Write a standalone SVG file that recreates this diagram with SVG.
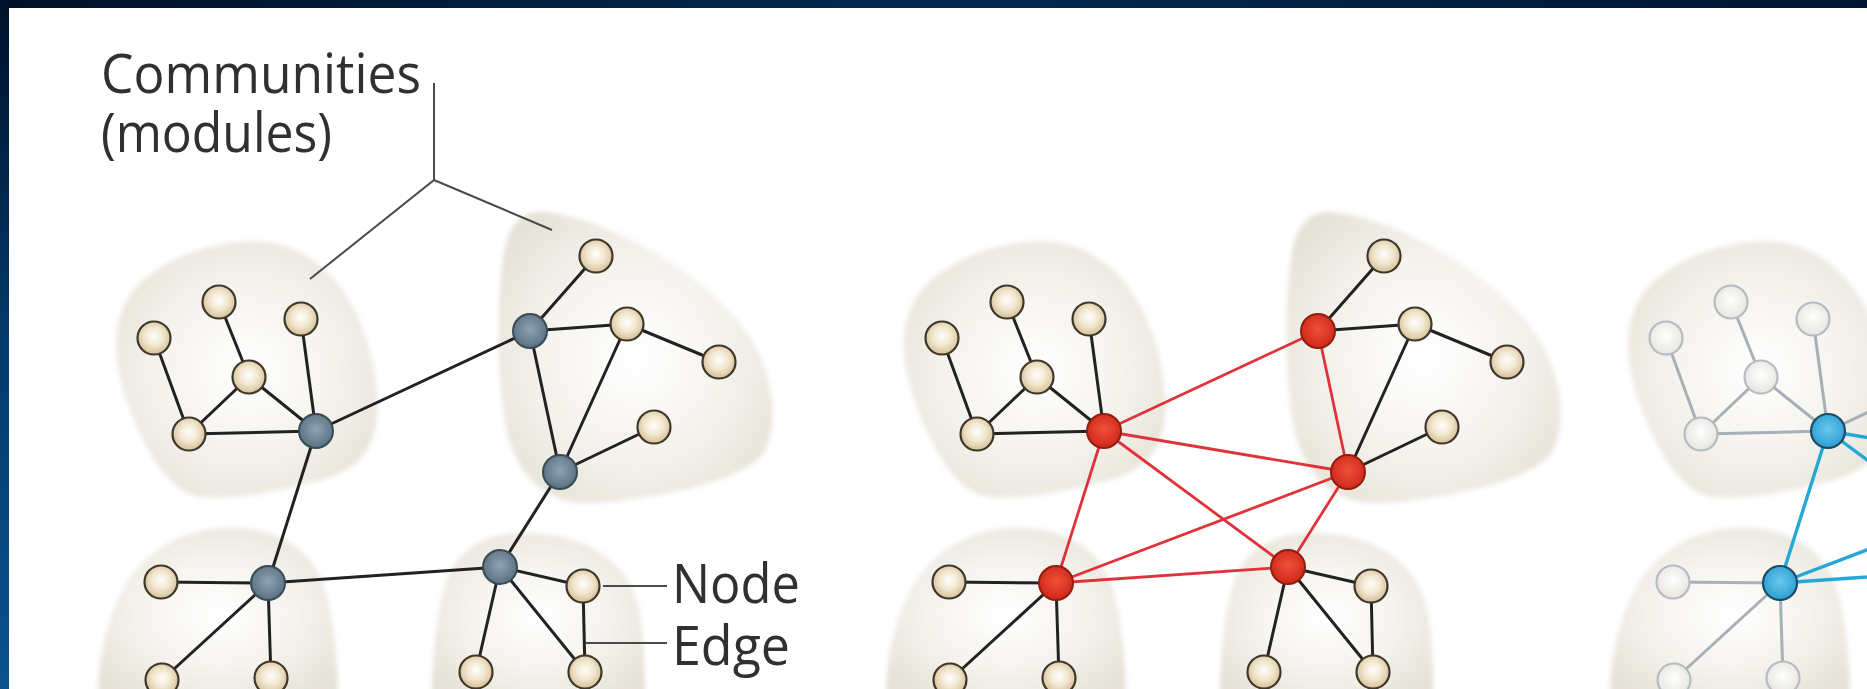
<svg xmlns="http://www.w3.org/2000/svg" xmlns:xlink="http://www.w3.org/1999/xlink" width="1867" height="689" viewBox="0 0 1867 689">
<defs>
  <linearGradient id="gTop" x1="0" y1="0" x2="1" y2="0">
    <stop offset="0" stop-color="#001126"/>
    <stop offset="0.5" stop-color="#042a52"/>
    <stop offset="1" stop-color="#001530"/>
  </linearGradient>
  <linearGradient id="gLeft" x1="0" y1="0" x2="0" y2="1">
    <stop offset="0" stop-color="#00112a"/>
    <stop offset="0.5" stop-color="#033a6a"/>
    <stop offset="1" stop-color="#0b5290"/>
  </linearGradient>
  <radialGradient id="gBlob" cx="0.5" cy="0.5" r="0.6">
    <stop offset="0" stop-color="#ffffff"/>
    <stop offset="0.55" stop-color="#f5f3ee"/>
    <stop offset="1" stop-color="#e6e2d7"/>
  </radialGradient>
  <radialGradient id="gTan" cx="0.5" cy="0.45" r="0.55">
    <stop offset="0" stop-color="#ffffff"/>
    <stop offset="0.5" stop-color="#f2e7cf"/>
    <stop offset="1" stop-color="#d5c098"/>
  </radialGradient>
  <radialGradient id="gGray" cx="0.5" cy="0.45" r="0.55">
    <stop offset="0" stop-color="#8ea3b2"/>
    <stop offset="1" stop-color="#5a7182"/>
  </radialGradient>
  <radialGradient id="gRed" cx="0.5" cy="0.45" r="0.55">
    <stop offset="0" stop-color="#f0503a"/>
    <stop offset="1" stop-color="#d0281a"/>
  </radialGradient>
  <radialGradient id="gBlue" cx="0.5" cy="0.45" r="0.55">
    <stop offset="0" stop-color="#6cc8ee"/>
    <stop offset="1" stop-color="#2a9fd2"/>
  </radialGradient>
  <radialGradient id="gPale" cx="0.5" cy="0.45" r="0.55">
    <stop offset="0" stop-color="#ffffff"/>
    <stop offset="1" stop-color="#e6e5e0"/>
  </radialGradient>
  <filter id="soft" x="-10%" y="-10%" width="120%" height="120%">
    <feGaussianBlur stdDeviation="2.5"/>
  </filter>
  <path id="blobA" d="M 260 242 C 330 245 372 318 377 395 C 380 445 362 468 322 480 C 275 492 235 500 203 497 C 172 494 150 460 130 410 C 112 362 108 318 138 285 C 168 256 215 240 260 242 Z"/>
  <path id="blobB" d="M 540 212 C 600 215 700 268 745 330 C 775 372 780 428 762 455 C 735 485 645 500 592 503 C 552 505 522 482 509 440 C 496 392 496 302 504 252 C 509 226 520 212 540 212 Z"/>
  <path id="blobC" d="M 230 528 C 285 528 318 555 328 600 C 336 640 338 680 338 700 L 98 700 C 98 665 104 625 125 585 C 150 545 190 528 230 528 Z"/>
  <path id="blobD" d="M 523 533 C 590 533 632 565 640 615 C 645 650 645 680 645 700 L 432 700 C 432 660 436 600 452 568 C 468 543 495 533 523 533 Z"/>
</defs>
<style>
  .blob{fill:url(#gBlob);filter:url(#soft)}
  .e{fill:none;stroke:#222222;stroke-width:3;stroke-linecap:round}
  .er{fill:none;stroke:#e0323a;stroke-width:2.8;stroke-linecap:round}
  .eb{fill:none;stroke:#26a8d6;stroke-width:3.4;stroke-linecap:round}
  .eg{fill:none;stroke:#a8b0b7;stroke-width:3;stroke-linecap:round}
  .tan{fill:url(#gTan);stroke:#3f3729;stroke-width:2.2}
  .hub{fill:url(#gGray);stroke:#3b4a55;stroke-width:2}
  .red{fill:url(#gRed);stroke:#8e1e12;stroke-width:2}
  .blue{fill:url(#gBlue);stroke:#1f4c63;stroke-width:2.2}
  .pale{fill:url(#gPale);stroke:#b4bbc1;stroke-width:2.2}
  .lead{fill:none;stroke:#4a4a4a;stroke-width:2}
  .lbl{font-family:"Open Sans","Liberation Sans",Arial,sans-serif;font-weight:400;font-size:54px;fill:#303030}
</style>

<rect width="1867" height="689" fill="#ffffff"/>
<rect id="frame-top" x="0" y="0" width="1867" height="8" fill="url(#gTop)"/>
<rect id="frame-left" x="0" y="0" width="9" height="689" fill="url(#gLeft)"/>

<g id="communities">
  <g id="p1-blobs">
    <use href="#blobA" class="blob"/><use href="#blobB" class="blob"/><use href="#blobC" class="blob"/><use href="#blobD" class="blob"/>
  </g>
  <g id="p2-blobs" transform="translate(788,0)">
    <use href="#blobA" class="blob"/><use href="#blobB" class="blob"/><use href="#blobC" class="blob"/><use href="#blobD" class="blob"/>
  </g>
  <g id="p3-blobs" transform="translate(1512,0)">
    <use href="#blobA" class="blob"/><use href="#blobC" class="blob"/>
  </g>
</g>

<g id="connectors">
  <g id="p1-edges" class="e">
    <line x1="154" y1="338" x2="189" y2="434"/>
    <line x1="219" y1="302" x2="249" y2="377"/>
    <line x1="249" y1="377" x2="189" y2="434"/>
    <line x1="249" y1="377" x2="316" y2="431"/>
    <line x1="189" y1="434" x2="316" y2="431"/>
    <line x1="301" y1="319" x2="316" y2="431"/>
    <line x1="316" y1="431" x2="530" y2="331"/>
    <line x1="316" y1="431" x2="268" y2="583"/>
    <line x1="596" y1="256" x2="530" y2="331"/>
    <line x1="530" y1="331" x2="627" y2="324"/>
    <line x1="627" y1="324" x2="719" y2="362"/>
    <line x1="530" y1="331" x2="560" y2="472"/>
    <line x1="627" y1="324" x2="560" y2="472"/>
    <line x1="560" y1="472" x2="654" y2="427"/>
    <line x1="560" y1="472" x2="500" y2="567"/>
    <line x1="161" y1="582" x2="268" y2="583"/>
    <line x1="268" y1="583" x2="162" y2="680"/>
    <line x1="268" y1="583" x2="271" y2="678"/>
    <line x1="268" y1="583" x2="500" y2="567"/>
    <line x1="500" y1="567" x2="583" y2="586"/>
    <line x1="500" y1="567" x2="476" y2="672"/>
    <line x1="500" y1="567" x2="585" y2="672"/>
    <line x1="583" y1="586" x2="585" y2="672"/>
  </g>
  <g id="p2-edges" transform="translate(788,0)">
    <g class="e">
      <line x1="154" y1="338" x2="189" y2="434"/>
      <line x1="219" y1="302" x2="249" y2="377"/>
      <line x1="249" y1="377" x2="189" y2="434"/>
      <line x1="249" y1="377" x2="316" y2="431"/>
      <line x1="189" y1="434" x2="316" y2="431"/>
      <line x1="301" y1="319" x2="316" y2="431"/>
      <line x1="596" y1="256" x2="530" y2="331"/>
      <line x1="530" y1="331" x2="627" y2="324"/>
      <line x1="627" y1="324" x2="719" y2="362"/>
      <line x1="627" y1="324" x2="560" y2="472"/>
      <line x1="560" y1="472" x2="654" y2="427"/>
      <line x1="161" y1="582" x2="268" y2="583"/>
      <line x1="268" y1="583" x2="162" y2="680"/>
      <line x1="268" y1="583" x2="271" y2="678"/>
      <line x1="500" y1="567" x2="583" y2="586"/>
      <line x1="500" y1="567" x2="476" y2="672"/>
      <line x1="500" y1="567" x2="585" y2="672"/>
      <line x1="583" y1="586" x2="585" y2="672"/>
    </g>
    <g class="er">
      <line x1="316" y1="431" x2="530" y2="331"/>
      <line x1="316" y1="431" x2="560" y2="472"/>
      <line x1="316" y1="431" x2="268" y2="583"/>
      <line x1="316" y1="431" x2="500" y2="567"/>
      <line x1="530" y1="331" x2="560" y2="472"/>
      <line x1="560" y1="472" x2="268" y2="583"/>
      <line x1="560" y1="472" x2="500" y2="567"/>
      <line x1="268" y1="583" x2="500" y2="567"/>
    </g>
  </g>
  <g id="p3-edges" transform="translate(1512,0)">
    <g class="eg">
      <line x1="154" y1="338" x2="189" y2="434"/>
      <line x1="219" y1="302" x2="249" y2="377"/>
      <line x1="249" y1="377" x2="189" y2="434"/>
      <line x1="249" y1="377" x2="316" y2="431"/>
      <line x1="189" y1="434" x2="316" y2="431"/>
      <line x1="301" y1="319" x2="316" y2="431"/>
      <line x1="316" y1="431" x2="530" y2="331"/>
      <line x1="161" y1="582" x2="268" y2="583"/>
      <line x1="268" y1="583" x2="162" y2="680"/>
      <line x1="268" y1="583" x2="271" y2="678"/>
    </g>
    <g class="eb">
      <line x1="316" y1="431" x2="268" y2="583"/>
      <line x1="316" y1="431" x2="560" y2="472"/>
      <line x1="316" y1="431" x2="500" y2="567"/>
      <line x1="268" y1="583" x2="560" y2="472"/>
      <line x1="268" y1="583" x2="500" y2="567"/>
    </g>
  </g>
  <g id="callouts" class="lead">
    <polyline points="434,83 434,180 310,279"/>
    <line x1="434" y1="180" x2="552" y2="230"/>
    <line x1="603" y1="586" x2="667" y2="586"/>
    <line x1="585" y1="643" x2="667" y2="643"/>
  </g>
</g>

<g id="p1-nodes">
  <g id="p1-a1"><circle class="tan" cx="154" cy="338" r="16.5"/></g>
  <g id="p1-a2"><circle class="tan" cx="219" cy="302" r="16.5"/></g>
  <g id="p1-a3"><circle class="tan" cx="301" cy="319" r="16.5"/></g>
  <g id="p1-a4"><circle class="tan" cx="249" cy="377" r="16.5"/></g>
  <g id="p1-a5"><circle class="tan" cx="189" cy="434" r="16.5"/></g>
  <g id="p1-hubA"><circle class="hub" cx="316" cy="431" r="17"/></g>
  <g id="p1-b1"><circle class="tan" cx="596" cy="256" r="16.5"/></g>
  <g id="p1-b2"><circle class="tan" cx="627" cy="324" r="16.5"/></g>
  <g id="p1-b3"><circle class="tan" cx="719" cy="362" r="16.5"/></g>
  <g id="p1-b4"><circle class="tan" cx="654" cy="427" r="16.5"/></g>
  <g id="p1-hubB1"><circle class="hub" cx="530" cy="331" r="17"/></g>
  <g id="p1-hubB2"><circle class="hub" cx="560" cy="472" r="17"/></g>
  <g id="p1-c1"><circle class="tan" cx="161" cy="582" r="16.5"/></g>
  <g id="p1-c2"><circle class="tan" cx="162" cy="680" r="16.5"/></g>
  <g id="p1-c3"><circle class="tan" cx="271" cy="678" r="16.5"/></g>
  <g id="p1-hubC"><circle class="hub" cx="268" cy="583" r="17"/></g>
  <g id="p1-d1"><circle class="tan" cx="583" cy="586" r="16.5"/></g>
  <g id="p1-d2"><circle class="tan" cx="476" cy="672" r="16.5"/></g>
  <g id="p1-d3"><circle class="tan" cx="585" cy="672" r="16.5"/></g>
  <g id="p1-hubD"><circle class="hub" cx="500" cy="567" r="17"/></g>
</g>

<g id="p2-nodes" transform="translate(788,0)">
  <g id="p2-a1"><circle class="tan" cx="154" cy="338" r="16.5"/></g>
  <g id="p2-a2"><circle class="tan" cx="219" cy="302" r="16.5"/></g>
  <g id="p2-a3"><circle class="tan" cx="301" cy="319" r="16.5"/></g>
  <g id="p2-a4"><circle class="tan" cx="249" cy="377" r="16.5"/></g>
  <g id="p2-a5"><circle class="tan" cx="189" cy="434" r="16.5"/></g>
  <g id="p2-hubA"><circle class="red" cx="316" cy="431" r="17"/></g>
  <g id="p2-b1"><circle class="tan" cx="596" cy="256" r="16.5"/></g>
  <g id="p2-b2"><circle class="tan" cx="627" cy="324" r="16.5"/></g>
  <g id="p2-b3"><circle class="tan" cx="719" cy="362" r="16.5"/></g>
  <g id="p2-b4"><circle class="tan" cx="654" cy="427" r="16.5"/></g>
  <g id="p2-hubB1"><circle class="red" cx="530" cy="331" r="17"/></g>
  <g id="p2-hubB2"><circle class="red" cx="560" cy="472" r="17"/></g>
  <g id="p2-c1"><circle class="tan" cx="161" cy="582" r="16.5"/></g>
  <g id="p2-c2"><circle class="tan" cx="162" cy="680" r="16.5"/></g>
  <g id="p2-c3"><circle class="tan" cx="271" cy="678" r="16.5"/></g>
  <g id="p2-hubC"><circle class="red" cx="268" cy="583" r="17"/></g>
  <g id="p2-d1"><circle class="tan" cx="583" cy="586" r="16.5"/></g>
  <g id="p2-d2"><circle class="tan" cx="476" cy="672" r="16.5"/></g>
  <g id="p2-d3"><circle class="tan" cx="585" cy="672" r="16.5"/></g>
  <g id="p2-hubD"><circle class="red" cx="500" cy="567" r="17"/></g>
</g>

<g id="p3-nodes" transform="translate(1512,0)">
  <g id="p3-a1"><circle class="pale" cx="154" cy="338" r="16.5"/></g>
  <g id="p3-a2"><circle class="pale" cx="219" cy="302" r="16.5"/></g>
  <g id="p3-a3"><circle class="pale" cx="301" cy="319" r="16.5"/></g>
  <g id="p3-a4"><circle class="pale" cx="249" cy="377" r="16.5"/></g>
  <g id="p3-a5"><circle class="pale" cx="189" cy="434" r="16.5"/></g>
  <g id="p3-hubA"><circle class="blue" cx="316" cy="431" r="17"/></g>
  <g id="p3-c1"><circle class="pale" cx="161" cy="582" r="16.5"/></g>
  <g id="p3-c2"><circle class="pale" cx="162" cy="680" r="16.5"/></g>
  <g id="p3-c3"><circle class="pale" cx="271" cy="678" r="16.5"/></g>
  <g id="p3-hubC"><circle class="blue" cx="268" cy="583" r="17"/></g>
</g>

<g id="labels">
  <text class="lbl" x="101" y="93" textLength="320" lengthAdjust="spacingAndGlyphs">Communities</text>
  <text class="lbl" x="101" y="152" textLength="231" lengthAdjust="spacingAndGlyphs">(modules)</text>
  <text class="lbl" x="672" y="603" textLength="128" lengthAdjust="spacingAndGlyphs">Node</text>
  <text class="lbl" x="672" y="665" textLength="118" lengthAdjust="spacingAndGlyphs">Edge</text>
</g>
</svg>
